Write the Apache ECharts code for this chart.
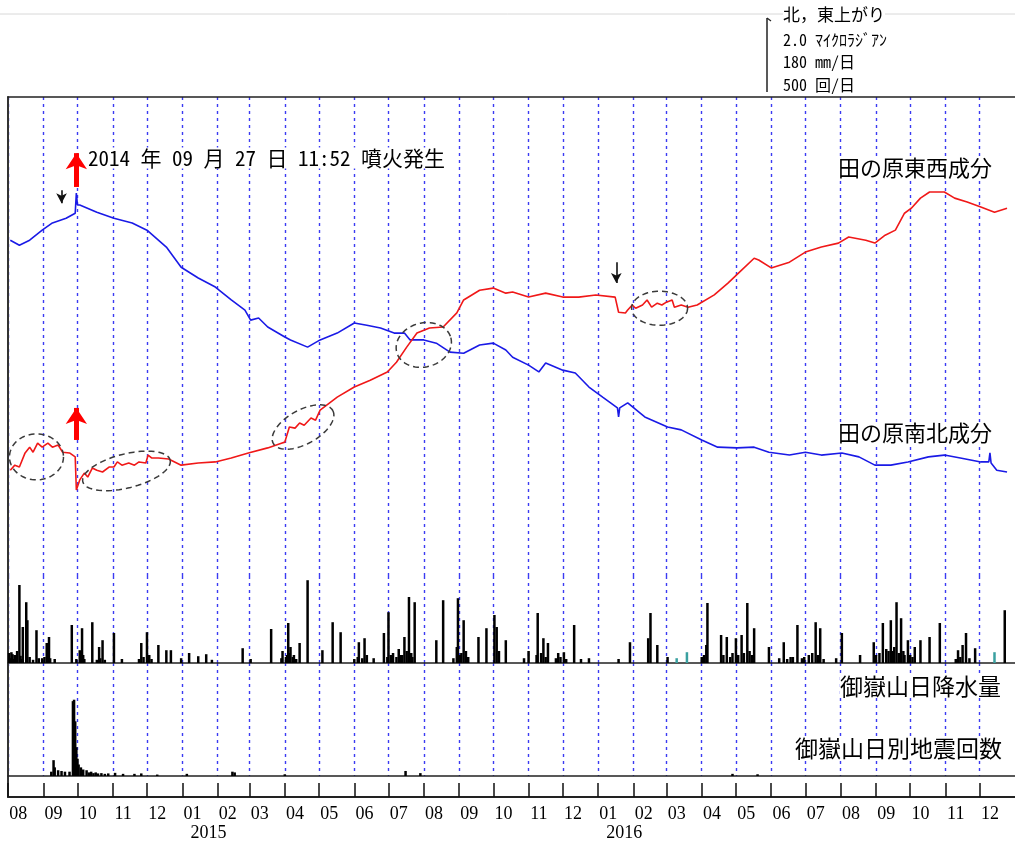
<!DOCTYPE html>
<html><head><meta charset="utf-8">
<script src="https://cdn.jsdelivr.net/npm/echarts@6/dist/echarts.min.js"></script>
<style>html,body{margin:0;padding:0;background:#fff}#c{width:1015px;height:845px}</style>
</head><body><div id="c"></div>
<script>
// ---------------- data ----------------
const START = '2014-08-01';
const END = '2017-01-01';
const monthLabels = ['08','09','10','11','12','01','02','03','04','05','06','07','08','09','10','11','12','01','02','03','04','05','06','07','08','09','10','11','12'];
const yearLabels = ['2015','2016'];
const yearLabelDates = ['2015-01-24','2016-01-24'];

// tilt, microradian (arbitrary offset)
const ewTilt = [['2014-08-03',2.94],['2014-08-07',3.08],['2014-08-11',3.03],['2014-08-16',3.42],['2014-08-20',3.58],['2014-08-23',3.44],['2014-08-27',3.69],['2014-08-31',3.58],['2014-09-05',3.69],['2014-09-09',3.58],['2014-09-14',3.64],['2014-09-18',3.44],['2014-09-24',3.42],['2014-09-29',3.31],['2014-09-30',2.39],['2014-10-03',2.67],['2014-10-07',2.86],['2014-10-10',2.75],['2014-10-14',3.00],['2014-10-18',2.94],['2014-10-23',2.89],['2014-10-29',3.03],['2014-11-02',3.03],['2014-11-05',3.17],['2014-11-09',3.08],['2014-11-15',3.14],['2014-11-20',3.08],['2014-11-24',3.17],['2014-11-30',3.14],['2014-12-02',3.36],['2014-12-05',3.28],['2014-12-11',3.28],['2014-12-20',3.25],['2014-12-31',3.08],['2015-01-15',3.14],['2015-01-30',3.17],['2015-02-13',3.28],['2015-02-28',3.42],['2015-03-17',3.56],['2015-03-29',3.69],['2015-04-01',3.72],['2015-04-05',4.14],['2015-04-10',4.11],['2015-04-14',4.25],['2015-04-18',4.19],['2015-04-24',4.39],['2015-04-28',4.33],['2015-05-02',4.61],['2015-05-17',4.97],['2015-06-01',5.25],['2015-06-15',5.44],['2015-06-30',5.67],['2015-07-08',5.94],['2015-07-17',6.36],['2015-07-26',6.75],['2015-08-06',6.89],['2015-08-18',6.92],['2015-08-30',7.31],['2015-09-05',7.67],['2015-09-19',7.94],['2015-10-01',8.00],['2015-10-12',7.86],['2015-10-18',7.89],['2015-11-01',7.75],['2015-11-16',7.86],['2015-12-01',7.75],['2015-12-15',7.75],['2015-12-30',7.81],['2016-01-16',7.75],['2016-01-19',7.33],['2016-01-25',7.31],['2016-01-27',7.39],['2016-01-31',7.53],['2016-02-03',7.44],['2016-02-09',7.53],['2016-02-13',7.67],['2016-02-17',7.47],['2016-02-22',7.58],['2016-02-26',7.53],['2016-03-01',7.61],['2016-03-06',7.67],['2016-03-08',7.47],['2016-03-14',7.53],['2016-03-20',7.47],['2016-03-28',7.53],['2016-04-12',7.81],['2016-04-24',8.14],['2016-05-06',8.50],['2016-05-17',8.83],['2016-05-21',8.78],['2016-06-01',8.56],['2016-06-17',8.72],['2016-07-01',9.00],['2016-07-15',9.14],['2016-07-30',9.25],['2016-08-08',9.42],['2016-08-23',9.33],['2016-08-31',9.25],['2016-09-09',9.47],['2016-09-18',9.61],['2016-09-26',10.08],['2016-10-02',10.22],['2016-10-10',10.50],['2016-10-18',10.67],['2016-10-31',10.67],['2016-11-09',10.50],['2016-11-20',10.39],['2016-12-02',10.25],['2016-12-14',10.11],['2016-12-25',10.22]];

const nsTilt = [['2014-08-03',9.33],['2014-08-11',9.19],['2014-08-20',9.33],['2014-08-31',9.61],['2014-09-09',9.81],['2014-09-21',9.94],['2014-09-29',10.08],['2014-09-30',10.64],['2014-10-01',10.31],['2014-10-03',10.31],['2014-10-18',10.11],['2014-11-02',9.94],['2014-11-18',9.81],['2014-12-01',9.61],['2014-12-18',9.14],['2014-12-31',8.58],['2015-01-15',8.28],['2015-01-30',8.03],['2015-02-13',7.67],['2015-02-25',7.39],['2015-03-02',7.11],['2015-03-09',7.17],['2015-03-17',6.92],['2015-04-01',6.64],['2015-04-06',6.56],['2015-04-21',6.36],['2015-05-02',6.56],['2015-05-17',6.75],['2015-06-01',7.03],['2015-06-12',6.97],['2015-06-24',6.89],['2015-07-06',6.75],['2015-07-15',6.75],['2015-07-20',6.56],['2015-08-01',6.56],['2015-08-12',6.47],['2015-08-24',6.22],['2015-09-05',6.19],['2015-09-19',6.42],['2015-10-01',6.47],['2015-10-12',6.28],['2015-10-18',6.08],['2015-11-01',5.86],['2015-11-10',5.67],['2015-11-16',5.92],['2015-12-01',5.72],['2015-12-12',5.64],['2015-12-24',5.25],['2016-01-05',4.97],['2016-01-18',4.67],['2016-01-19',4.42],['2016-01-20',4.67],['2016-01-27',4.81],['2016-02-11',4.42],['2016-03-02',4.14],['2016-03-14',4.06],['2016-04-01',3.78],['2016-04-15',3.58],['2016-05-02',3.56],['2016-05-17',3.58],['2016-05-30',3.44],['2016-06-17',3.36],['2016-07-01',3.44],['2016-07-15',3.36],['2016-08-02',3.42],['2016-08-17',3.31],['2016-08-31',3.08],['2016-09-14',3.08],['2016-09-29',3.17],['2016-10-17',3.31],['2016-10-31',3.36],['2016-11-14',3.28],['2016-12-02',3.17],['2016-12-09',3.17],['2016-12-10',3.42],['2016-12-11',3.14],['2016-12-16',2.94],['2016-12-25',2.89]];

// daily precipitation, mm/day
const rainfall = [['2014-08-02',25],['2014-08-03',12],['2014-08-04',27],['2014-08-05',22],['2014-08-06',10],['2014-08-07',20],['2014-08-08',14],['2014-08-09',30],['2014-08-11',195],['2014-08-12',18],['2014-08-13',10],['2014-08-14',90],['2014-08-17',152],['2014-08-18',107],['2014-08-20',15],['2014-08-23',8],['2014-08-26',82],['2014-08-28',12],['2014-08-31',12],['2014-09-02',15],['2014-09-04',50],['2014-09-05',20],['2014-09-06',65],['2014-09-07',12],['2014-09-11',10],['2014-09-26',95],['2014-09-30',10],['2014-10-03',32],['2014-10-04',15],['2014-10-05',87],['2014-10-06',20],['2014-10-07',10],['2014-10-14',102],['2014-10-18',8],['2014-10-20',40],['2014-10-21',12],['2014-10-23',57],['2014-10-25',8],['2014-11-02',75],['2014-11-09',10],['2014-11-24',10],['2014-11-26',50],['2014-11-28',15],['2014-12-01',77],['2014-12-03',20],['2014-12-05',10],['2014-12-11',45],['2014-12-18',32],['2014-12-22',32],['2014-12-31',12],['2015-01-07',25],['2015-01-15',17],['2015-01-22',22],['2015-01-27',8],['2015-02-23',37],['2015-03-02',10],['2015-03-20',85],['2015-03-29',12],['2015-03-30',30],['2015-04-02',15],['2015-04-03',20],['2015-04-04',100],['2015-04-05',25],['2015-04-06',40],['2015-04-08',15],['2015-04-09',20],['2015-04-11',10],['2015-04-14',50],['2015-04-21',207],['2015-05-04',32],['2015-05-13',102],['2015-05-20',77],['2015-06-01',10],['2015-06-04',15],['2015-06-05',52],['2015-06-08',12],['2015-06-10',62],['2015-06-12',20],['2015-06-18',12],['2015-06-27',75],['2015-06-30',15],['2015-07-01',127],['2015-07-03',20],['2015-07-05',25],['2015-07-08',15],['2015-07-10',35],['2015-07-12',20],['2015-07-13',20],['2015-07-15',65],['2015-07-17',30],['2015-07-19',165],['2015-07-21',25],['2015-07-22',15],['2015-07-24',152],['2015-08-12',57],['2015-08-18',157],['2015-08-27',12],['2015-08-30',40],['2015-08-31',162],['2015-09-01',20],['2015-09-02',20],['2015-09-03',25],['2015-09-05',107],['2015-09-07',30],['2015-09-08',15],['2015-09-09',15],['2015-09-18',65],['2015-09-25',87],['2015-10-02',120],['2015-10-04',90],['2015-10-06',30],['2015-10-12',57],['2015-10-28',12],['2015-11-01',30],['2015-11-08',20],['2015-11-09',125],['2015-11-12',25],['2015-11-14',62],['2015-11-16',15],['2015-11-18',50],['2015-11-25',12],['2015-11-27',25],['2015-11-29',15],['2015-12-02',27],['2015-12-04',10],['2015-12-11',95],['2015-12-17',10],['2015-12-24',12],['2016-01-19',10],['2016-01-29',52],['2016-02-14',62],['2016-02-16',125],['2016-02-22',45],['2016-03-02',15],['2016-04-01',15],['2016-04-03',20],['2016-04-05',45],['2016-04-06',150],['2016-04-18',70],['2016-04-20',20],['2016-04-23',65],['2016-04-26',15],['2016-04-28',25],['2016-05-01',62],['2016-05-03',20],['2016-05-06',70],['2016-05-08',25],['2016-05-11',150],['2016-05-13',30],['2016-05-15',20],['2016-05-17',87],['2016-05-30',40],['2016-06-08',12],['2016-06-12',52],['2016-06-15',10],['2016-06-18',15],['2016-06-20',15],['2016-06-24',95],['2016-06-28',12],['2016-06-30',15],['2016-07-04',20],['2016-07-07',25],['2016-07-10',102],['2016-07-12',20],['2016-07-14',87],['2016-07-17',10],['2016-07-28',12],['2016-08-02',75],['2016-08-18',20],['2016-08-30',52],['2016-09-01',20],['2016-09-04',25],['2016-09-07',100],['2016-09-10',35],['2016-09-12',30],['2016-09-14',107],['2016-09-16',30],['2016-09-17',40],['2016-09-19',152],['2016-09-21',25],['2016-09-23',112],['2016-09-25',30],['2016-09-26',20],['2016-09-29',57],['2016-10-01',20],['2016-10-03',15],['2016-10-05',40],['2016-10-10',57],['2016-10-18',65],['2016-10-27',100],['2016-11-10',10],['2016-11-12',32],['2016-11-14',15],['2016-11-16',45],['2016-11-19',75],['2016-11-22',12],['2016-11-27',37],['2016-12-23',132]];
const rainfallEstimated = [['2016-03-10',12],['2016-03-19',27],['2016-12-14',27]];

// daily earthquake counts
const quakes = [['2014-09-08',30],['2014-09-10',110],['2014-09-11',60],['2014-09-14',40],['2014-09-17',35],['2014-09-20',30],['2014-09-24',30],['2014-09-27',520],['2014-09-28',530],['2014-09-29',380],['2014-09-30',200],['2014-10-01',120],['2014-10-02',80],['2014-10-04',60],['2014-10-06',45],['2014-10-09',40],['2014-10-11',25],['2014-10-13',30],['2014-10-15',20],['2014-10-17',25],['2014-10-19',18],['2014-10-22',20],['2014-10-25',15],['2014-10-28',18],['2014-11-03',22],['2014-11-10',15],['2014-11-20',15],['2014-11-26',18],['2014-12-10',10],['2015-01-05',15],['2015-02-14',30],['2015-02-16',25],['2015-04-01',12],['2015-07-16',35],['2015-07-29',20],['2016-04-28',15],['2016-05-20',12]];

// annotations (date, tilt value from, tilt value to)
const redArrows = [['2014-09-30',10.81,11.75],['2014-09-30',3.78,4.67]];
const blackArrows = [['2014-09-17',10.72,10.36],['2016-01-17',8.72,8.14]];
const ellipseMarks = [['2014-08-26',3.31],['2014-11-13',2.92],['2015-04-17',4.14],['2015-08-01',6.42],['2016-02-24',7.44]];
const ellipseShapes = [[27,23,0],[45,17,-14],[34,17,-29],[28,22,-15],[28,17,0]];

// ---------------- helpers ----------------
const DAY = 86400000;
const ORIGIN = Date.UTC(2014,7,1);
function dayOf(s){ const p=s.split('-').map(Number); return Math.round((Date.UTC(p[0],p[1]-1,p[2])-ORIGIN)/DAY); }
const X_MAX = dayOf(END);
const monthStarts = [];
for (let i=0;i<monthLabels.length;i++) monthStarts.push(Math.round((Date.UTC(2014,7+i,1)-ORIGIN)/DAY));
const labelDays = monthStarts.map(d=>d+9);
const yearDays = yearLabelDates.map(dayOf);
const toXY = arr => arr.map(p=>[dayOf(p[0]), p[1]]);

const gridLine = {show:true, lineStyle:{color:'#3b3bf2', width:1.4, type:[3,4]}};
const blackLine = {show:true, onZero:false, lineStyle:{color:'#222', width:1.5}};
function xAx(grid, extra){
  return Object.assign({type:'value', gridIndex:grid, min:0, max:X_MAX,
    axisLabel:{show:false}, axisTick:{show:false, customValues:monthStarts},
    splitLine:{show:false}, axisLine:{show:false, onZero:false}}, extra);
}
function yAx(grid, max){
  return {type:'value', gridIndex:grid, min:0, max:max, axisLabel:{show:false}, axisTick:{show:false},
    splitLine:{show:false}, axisLine:{show:true, onZero:false, lineStyle:{color:'#333', width:2}}};
}

const chart = echarts.init(document.getElementById('c'), null, {renderer:'canvas'});
const serifFont = '"Liberation Serif","DejaVu Serif",serif';
const option = {
  animation:false,
  backgroundColor:'#fff',
  grid:[
    {left:8, right:-8, top:97, height:479},
    {left:8, right:-8, top:576, height:87},
    {left:8, right:-8, top:663, height:113},
    {left:8, right:-8, top:776, height:21}
  ],
  xAxis:[
    xAx(0,{position:'top', axisLine:blackLine, splitLine:gridLine}),
    xAx(1,{position:'bottom', axisLine:blackLine, splitLine:gridLine}),
    xAx(2,{position:'bottom', axisLine:blackLine, splitLine:gridLine}),
    xAx(3,{position:'bottom', axisLine:{show:true,onZero:false,lineStyle:{color:'#222',width:2}},
      axisTick:{show:true, inside:true, length:14, customValues:monthStarts, lineStyle:{color:'#111', width:1.5}},
      axisLabel:{show:true, customValues:labelDays, margin:8, color:'#000', fontSize:18, fontFamily:serifFont,
        formatter:function(v){ const i=labelDays.indexOf(Math.round(v)); return i>=0?monthLabels[i]:''; }}}),
    xAx(3,{position:'bottom', offset:19, axisTick:{show:false, customValues:yearDays},
      axisLabel:{show:true, customValues:yearDays, margin:8, color:'#000', fontSize:18, fontFamily:serifFont,
        formatter:function(v){ const i=yearDays.indexOf(Math.round(v)); return i>=0?yearLabels[i]:''; }}})
  ],
  yAxis:[ yAx(0,13.31), yAx(1,217.5), yAx(2,785), yAx(3,1) ],
  series:[
    {type:'line', name:'田の原南北成分', xAxisIndex:0, yAxisIndex:0, data:toXY(nsTilt), symbol:'none',
      lineStyle:{color:'#1a1ae6', width:1.6},
      markLine:{silent:true, symbol:['none','arrow'], symbolSize:[8,10], label:{show:false},
        lineStyle:{color:'#111', width:1.6, type:'solid'},
        data: blackArrows.map(a=>[{coord:[dayOf(a[0]),a[1]]},{coord:[dayOf(a[0]),a[2]]}])}},
    {type:'line', name:'田の原東西成分', xAxisIndex:0, yAxisIndex:0, data:toXY(ewTilt), symbol:'none',
      lineStyle:{color:'#f01818', width:1.6},
      markLine:{silent:true, symbol:['none','arrow'], symbolSize:[16,16], label:{show:false},
        lineStyle:{color:'#ff0000', width:5, type:'solid'},
        data: redArrows.map(a=>[{coord:[dayOf(a[0]),a[1]]},{coord:[dayOf(a[0]),a[2]]}])}},
    {type:'bar', name:'御嶽山日降水量', xAxisIndex:1, yAxisIndex:1, data:toXY(rainfall), barWidth:2.5, barGap:'-100%',
      itemStyle:{color:'#000'}},
    {type:'bar', name:'御嶽山日降水量(参考)', xAxisIndex:1, yAxisIndex:1, data:toXY(rainfallEstimated), barWidth:2.5, barGap:'-100%',
      itemStyle:{color:'#3aa0a0'}},
    {type:'bar', name:'御嶽山日別地震回数', xAxisIndex:2, yAxisIndex:2, data:toXY(quakes), barWidth:2.5,
      itemStyle:{color:'#000'}}
  ]
};
chart.setOption(option);

// ---------------- decorations ----------------
const cjk = '"Noto Sans CJK JP","Noto Sans CJK SC",sans-serif';
const mono = '"Noto Sans Mono CJK JP","DejaVu Sans Mono","Noto Sans CJK JP",monospace';
function txt(text, x, y, size, fam){
  return {type:'text', z:100, style:{text:text, x:x, y:y, fill:'#000', font: size+'px '+fam,
    verticalAlign:'middle', backgroundColor:'#fff'}};
}
const graphics = [
  {type:'line', z:1, shape:{x1:0,y1:14,x2:1015,y2:14}, style:{stroke:'#d8d8d8', lineWidth:1}},
  {type:'line', z:100, shape:{x1:767,y1:18,x2:767,y2:92}, style:{stroke:'#222', lineWidth:1.5}},
  {type:'line', z:100, shape:{x1:767,y1:18,x2:771,y2:21}, style:{stroke:'#222', lineWidth:1.2}},
  txt('北，東上がり', 783, 15, 17, cjk),
  txt('2.0 ﾏｲｸﾛﾗｼﾞｱﾝ', 783, 40, 16, mono),
  txt('180 mm/日', 783, 62, 16, mono),
  txt('500 回/日', 783, 85, 16, mono),
  txt('2014 年 09 月 27 日 11:52 噴火発生', 88, 158, 21, mono),
  txt('田の原東西成分', 838, 168, 22, cjk),
  txt('田の原南北成分', 838, 433, 22, cjk),
  txt('御嶽山日降水量', 840, 686, 23, cjk),
  txt('御嶽山日別地震回数', 795, 748, 23, cjk)
];
ellipseMarks.forEach((m,i)=>{
  const c = chart.convertToPixel({gridIndex:0}, [dayOf(m[0]), m[1]]);
  const rx=ellipseShapes[i][0], ry=ellipseShapes[i][1], th=ellipseShapes[i][2]*Math.PI/180;
  const pts=[];
  for(let k=0;k<=72;k++){
    const t=k/72*2*Math.PI;
    pts.push([c[0]+rx*Math.cos(t)*Math.cos(th)-ry*Math.sin(t)*Math.sin(th),
              c[1]+rx*Math.cos(t)*Math.sin(th)+ry*Math.sin(t)*Math.cos(th)]);
  }
  graphics.push({type:'polyline', z:90, shape:{points:pts}, style:{stroke:'#3a3a3a', lineWidth:1.5, lineDash:[6,4], fill:null}});
});
chart.setOption({graphic:graphics});
</script>
</body></html>
